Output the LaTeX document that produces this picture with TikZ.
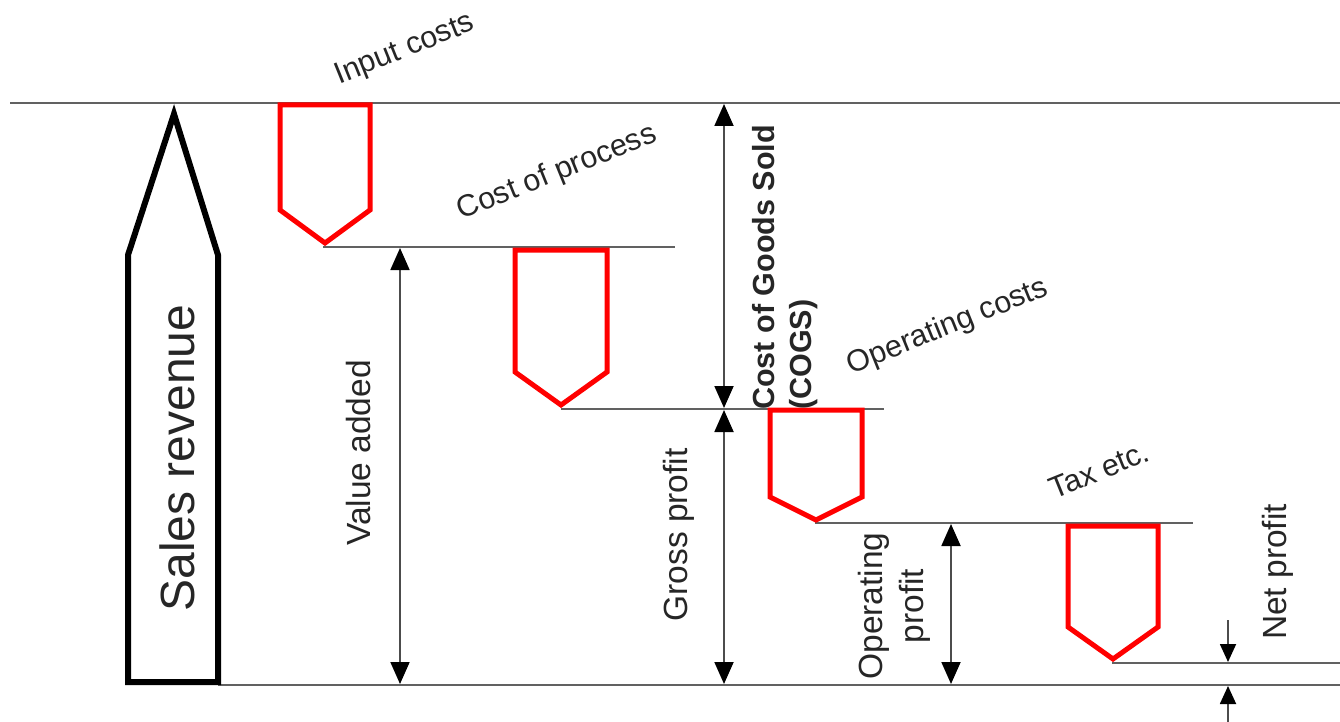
\documentclass[tikz,border=0pt]{standalone}
\usepackage{fontspec}
\setmainfont{Liberation Sans}
\usetikzlibrary{arrows.meta}
\begin{document}
\begin{tikzpicture}[x=1pt,y=-1pt,
  level/.style={draw=black!62,line width=1.8pt},
  costbox/.style={draw=red,line width=5pt,line join=miter},
  revenue/.style={draw=black,line width=6pt,line join=miter},
  span/.style={draw=black!70,line width=1.8pt,{Triangle[length=22pt,width=19pt,color=black]}-{Triangle[length=22pt,width=19pt,color=black]}},
  halfspan/.style={draw=black!70,line width=1.8pt,-{Triangle[length=18pt,width=16pt,color=black]}},
  slanted/.style={text=black!85,inner sep=0pt,rotate=22,font=\fontsize{30.5}{36}\selectfont},
  upright/.style={text=black!85,inner sep=0pt,rotate=90,font=\fontsize{33.5}{41}\selectfont}]
\useasboundingbox (0,0) rectangle (1340,722);

% levels
\coordinate (topL) at (10,103);   \coordinate (topR) at (1340,103);
\coordinate (l1a) at (323,247);   \coordinate (l1b) at (675,247);
\coordinate (l2a) at (561,409);   \coordinate (l2b) at (884,409);
\coordinate (l3a) at (815,523);   \coordinate (l3b) at (1193,523);
\coordinate (l4a) at (1112,663);  \coordinate (l4b) at (1340,663);
\coordinate (botL) at (218,685);  \coordinate (botR) at (1340,685);
\draw[level] (topL) -- (topR);
\draw[level] (l1a) -- (l1b);
\draw[level] (l2a) -- (l2b);
\draw[level] (l3a) -- (l3b);
\draw[level] (l4a) -- (l4b);
\draw[level] (botL) -- (botR);

% sales revenue arrow
\draw[revenue] (128,682) -- (218,682) -- (218,255) -- (174,114) -- (128,255) -- cycle;
\node[upright,font=\fontsize{48}{56}\selectfont] (sales) at (177,458) {Sales revenue};

% cost steps
\draw[costbox] (280,105) -- (370,105) -- (370,210) -- (325,243) -- (280,210) -- cycle;
\draw[costbox] (515,250) -- (607,250) -- (607,372) -- (561,405) -- (515,372) -- cycle;
\draw[costbox] (770,410) -- (862,410) -- (862,497) -- (816,520) -- (770,497) -- cycle;
\draw[costbox] (1068,526) -- (1158,526) -- (1158,627) -- (1113,659) -- (1068,627) -- cycle;

\node[slanted] (input) at (405,50) {Input costs};
\node[slanted] (process) at (557,173) {Cost of process};
\node[slanted] (opcost) at (948,327) {Operating costs};
\node[slanted] (tax) at (1099,470) {Tax etc.};

% dimension arrows
\coordinate (cogsT) at (724,104);  \coordinate (cogsB) at (724,408);
\coordinate (vaT) at (400,248);    \coordinate (vaB) at (400,684);
\coordinate (gpT) at (724,410);    \coordinate (gpB) at (724,684);
\coordinate (opT) at (951,524);    \coordinate (opB) at (951,684);
\coordinate (npA) at (1228,620);   \coordinate (npB) at (1228,662);
\coordinate (npC) at (1228,722);   \coordinate (npD) at (1228,686);
\draw[span] (cogsT) -- (cogsB);
\draw[span] (vaT) -- (vaB);
\draw[span] (gpT) -- (gpB);
\draw[span] (opT) -- (opB);
\draw[halfspan] (npA) -- (npB);
\draw[halfspan] (npC) -- (npD);

\node[upright] (va) at (359,453) {Value added};
\node[upright] (gp) at (679,535) {Gross profit};
\node[upright,align=center] (op) at (894,606) {Operating\\profit};
\node[upright] (np) at (1278,572) {Net profit};
\node[upright,anchor=west,align=left,font=\fontsize{30.5}{37}\bfseries] (cogs) at (785,410) {Cost of Goods Sold\\(COGS)};
\end{tikzpicture}
\end{document}
